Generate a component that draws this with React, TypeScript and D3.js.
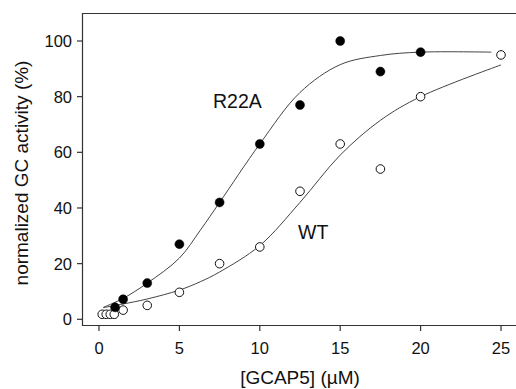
import React from "react";
import * as d3 from "d3";

const xTicks = [0, 5, 10, 15, 20, 25];
const yTicks = [0, 20, 40, 60, 80, 100];

// R22A measured points (filled)
const r22aX = [1.0, 1.5, 3, 5, 7.5, 10, 12.5, 15, 17.5, 20];
const r22aY = [4.3, 7.2, 13, 27, 42, 63, 77, 100, 89, 96];

// WT measured points (open)
const wtX = [0.2, 0.45, 0.7, 0.95, 1.5, 3, 5, 7.5, 10, 12.5, 15, 17.5, 20, 25];
const wtY = [1.8, 1.8, 1.8, 1.8, 3.3, 5, 9.7, 20, 26, 46, 63, 54, 80, 95];

// fitted curves
const r22aFitX = [0.27, 1.5, 3, 5, 6.3, 7.5, 10, 12.5, 15, 17.5, 20, 24.4];
const r22aFitY = [4.3, 7.5, 13, 22, 32, 42, 63, 81.5, 91.5, 94.8, 96, 96];
const wtFitX = [0.27, 1.5, 3, 5, 6.3, 7.5, 10, 12.5, 15, 17.5, 20, 25];
const wtFitY = [4.2, 5.5, 7.3, 10.5, 13.5, 17, 26.5, 42, 59, 71.5, 80, 91.4];

const W = 516;
const H = 389;
const left = 82.5;
const top = 13.5;
const bottom = 325.5;

const x = d3.scaleLinear().domain([0, 25]).range([99, 501]);
const y = d3.scaleLinear().domain([0, 100]).range([319.3, 41]);

const font = "'Liberation Sans', Arial, sans-serif";

export default function App() {
  const line = d3
    .line<[number, number]>()
    .x((d) => x(d[0]))
    .y((d) => y(d[1]))
    .curve(d3.curveCatmullRom.alpha(0.5));
  const r22aFit = r22aFitX.map((v, i) => [v, r22aFitY[i]] as [number, number]);
  const wtFit = wtFitX.map((v, i) => [v, wtFitY[i]] as [number, number]);

  return (
    <svg
      width={W}
      height={H}
      style={{ position: "absolute", left: 0, top: 0, background: "#fff" }}
      fontFamily={font}
    >
      <rect x={0} y={0} width={W} height={H} fill="#fff" />
      {/* frame */}
      <path
        d={`M${W + 2},${top}H${left}V${bottom}H${W + 2}`}
        fill="none"
        stroke="#333"
        strokeWidth={1.2}
      />
      {/* y axis ticks */}
      {yTicks.map((t) => (
        <g key={"y" + t}>
          <line x1={left - 5.5} x2={left} y1={y(t)} y2={y(t)} stroke="#333" strokeWidth={1.2} />
          <text x={72} y={y(t) + 6} textAnchor="end" fontSize={16.5} fill="#111">
            {t}
          </text>
        </g>
      ))}
      {/* x axis ticks */}
      {xTicks.map((t) => (
        <g key={"x" + t}>
          <line x1={x(t)} x2={x(t)} y1={bottom} y2={bottom + 5.5} stroke="#333" strokeWidth={1.2} />
          <text x={x(t)} y={354} textAnchor="middle" fontSize={16.5} fill="#111">
            {t}
          </text>
        </g>
      ))}
      {/* axis titles */}
      <text x={300} y={384} textAnchor="middle" fontSize={19} fill="#111">
        [GCAP5] (µM)
      </text>
      <text
        transform={`translate(28,173) rotate(-90)`}
        textAnchor="middle"
        fontSize={19}
        fill="#111"
      >
        normalized GC activity (%)
      </text>
      {/* fit curves */}
      <path d={line(r22aFit) || ""} fill="none" stroke="#444" strokeWidth={1} />
      <path d={line(wtFit) || ""} fill="none" stroke="#444" strokeWidth={1} />
      {/* points */}
      {wtX.map((v, i) => (
        <circle key={"w" + i} cx={x(v)} cy={y(wtY[i])} r={4.3} fill="#fff" stroke="#111" strokeWidth={1} />
      ))}
      {r22aX.map((v, i) => (
        <circle key={"r" + i} cx={x(v)} cy={y(r22aY[i])} r={4.5} fill="#000" stroke="#000" strokeWidth={0.5} />
      ))}
      {/* labels */}
      <text x={213} y={108} fontSize={19.5} fill="#111">
        R22A
      </text>
      <text x={298} y={239} fontSize={19.5} fill="#111">
        WT
      </text>
    </svg>
  );
}
